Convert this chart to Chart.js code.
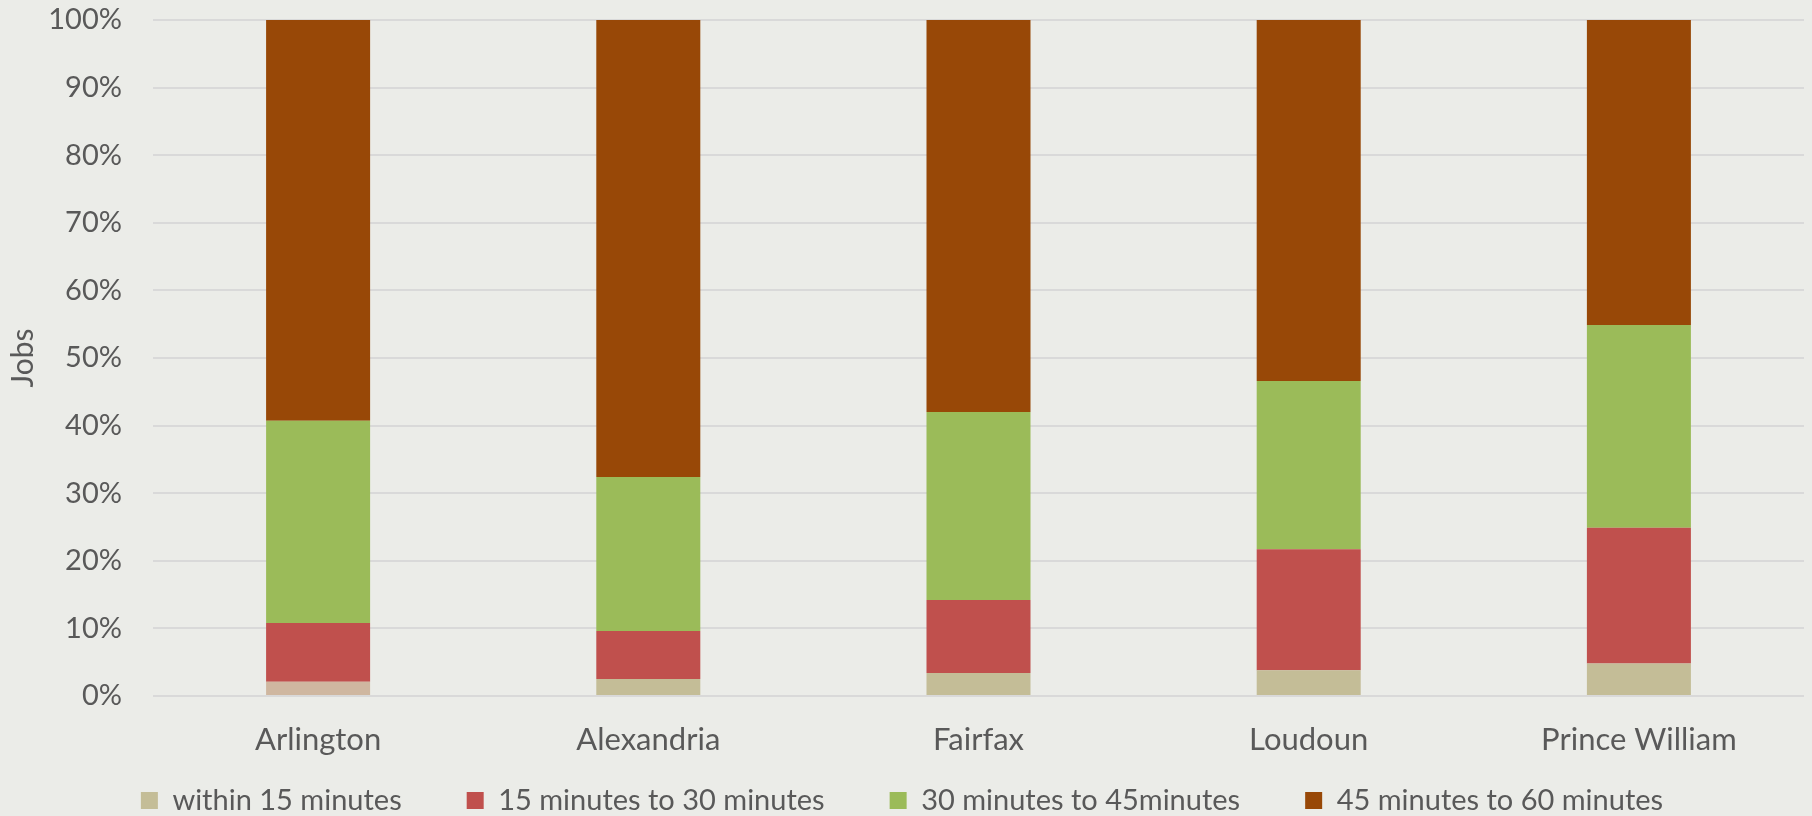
<!DOCTYPE html>
<html>
<head>
<meta charset="utf-8">
<script src="https://cdn.jsdelivr.net/npm/chart.js@4/dist/chart.umd.min.js"></script>
<style>
  html, body { margin: 0; padding: 0; background: #EBECE8; }
  #wrap { width: 1812px; height: 816px; }
</style>
</head>
<body>
<div id="wrap"><canvas id="bars"></canvas></div>
<script>
// share of jobs reachable, by travel time (percent)
const counties = ['Arlington', 'Alexandria', 'Fairfax', 'Loudoun', 'Prince William'];
const within15 = [2.1, 2.5, 3.4, 3.8, 4.8];
const min15to30 = [8.7, 7.1, 10.8, 17.9, 20.1];
const min30to45 = [29.9, 22.8, 27.8, 24.9, 30.0];
const min45to60 = [59.3, 67.6, 58.0, 53.4, 45.1];
const yTicks = [0, 10, 20, 30, 40, 50, 60, 70, 80, 90, 100];

const textColor = '#595959';
const tan = '#C4BD97';
Chart.defaults.font.family = 'Lato, "Open Sans", sans-serif';
Chart.defaults.color = textColor;

const bgPlugin = {
  id: 'bg',
  beforeDraw(chart) {
    const c = chart.ctx;
    c.save();
    c.fillStyle = '#EBECE8';
    c.fillRect(0, 0, chart.width, chart.height);
    c.restore();
  }
};

// legend padding is big (wide gaps between items), so pull the row up a bit
const legendNudge = {
  id: 'legendNudge',
  afterLayout(chart) {
    const lg = chart.legend;
    if (!lg) return;
    lg.top -= 54;
    lg.bottom -= 54;
  }
};

const defaultLabels = Chart.defaults.plugins.legend.labels.generateLabels;

const barConfig = {
  type: 'bar',
  data: {
    labels: counties,
    datasets: [
      {
        label: 'within 15 minutes',
        // Arlington's bottom block is a touch pinker in the original
        backgroundColor: ['#CFB7A0', tan, tan, tan, tan],
        data: within15,
      },
      {
        label: '15 minutes to 30 minutes',
        backgroundColor: '#C0504D',
        data: min15to30,
      },
      {
        label: '30 minutes to 45minutes',
        backgroundColor: '#9BBB59',
        data: min30to45,
      },
      {
        label: '45 minutes to 60 minutes',
        backgroundColor: '#984807',
        data: min45to60,
      },
    ],
  },
  options: {
    responsive: true,
    maintainAspectRatio: false,
    animation: false,
    layout: { padding: { top: 20, right: 8, bottom: -63, left: 0 } },
    datasets: {
      bar: { categoryPercentage: 1, barPercentage: 0.315, borderWidth: 0 }
    },
    scales: {
      x: {
        stacked: true,
        afterFit: (s) => { s.height = 79; },
        grid: { display: false, drawTicks: false },
        border: { display: false },
        ticks: { font: { size: 31 }, padding: 25, color: textColor },
      },
      y: {
        stacked: true,
        min: 0,
        max: 100,
        afterFit: (s) => { s.width = 153; },
        afterBuildTicks: (s) => { s.ticks = yTicks.map(v => ({ value: v })); },
        grid: { color: '#D9D9D9', lineWidth: 2, drawTicks: true, tickLength: 31, tickColor: 'rgba(0,0,0,0)' },
        border: { display: false },
        ticks: {
          font: { size: 29 },
          padding: 0,
          color: textColor,
          callback: (v) => v + '%',
        },
        title: {
          display: true,
          text: 'Jobs',
          font: { size: 30 },
          color: textColor,
          padding: { top: 5, bottom: 0 },
        },
      },
    },
    plugins: {
      legend: {
        position: 'bottom',
        labels: {
          boxWidth: 17,
          boxHeight: 17,
          padding: 65,
          font: { size: 29 },
          color: textColor,
          generateLabels: (chart) => {
            const items = defaultLabels(chart);
            items[0].fillStyle = tan;
            items[0].strokeStyle = tan;
            return items;
          },
        },
      },
      tooltip: { enabled: false },
    },
  },
  plugins: [bgPlugin, legendNudge],
};

const barsCtx = document.getElementById('bars');
window.myBar = new Chart(barsCtx, barConfig);
</script>
</body>
</html>
